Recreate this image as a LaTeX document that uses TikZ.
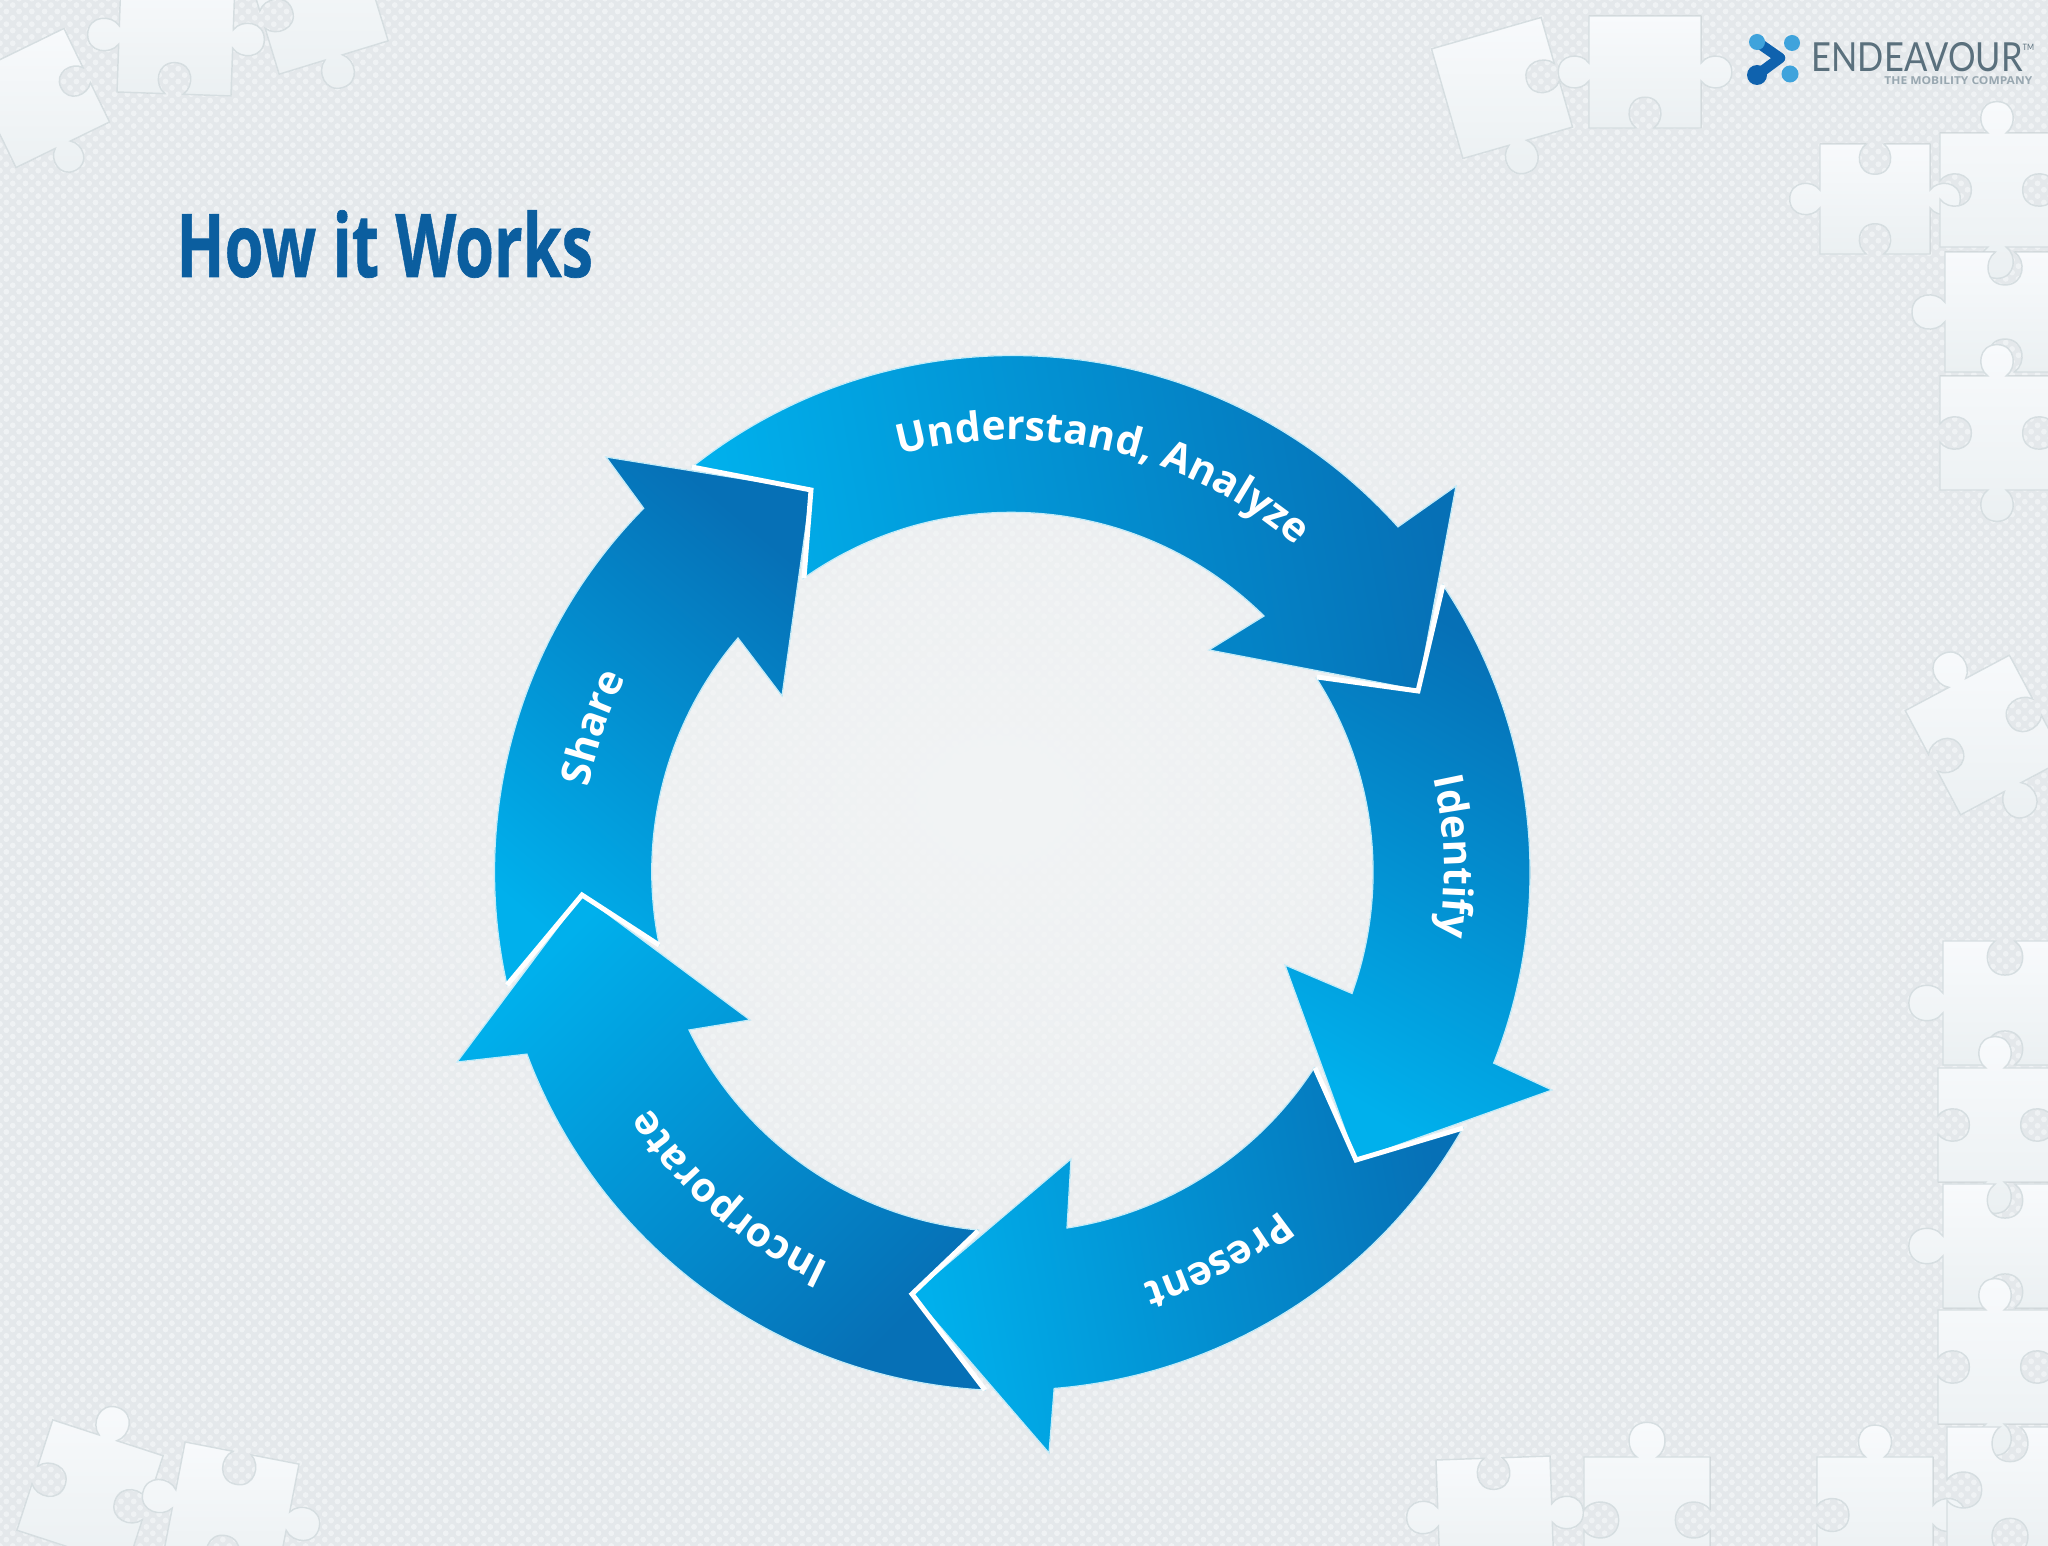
\documentclass[tikz,border=0pt]{standalone}
\usepackage{fontspec}
\setmainfont{Open Sans}
\newfontfamily\logofont{Lato}
\usetikzlibrary{patterns.meta}
\usetikzlibrary{fadings}
\usetikzlibrary{decorations.text}
\definecolor{backgr}{HTML}{E4E8EB}
\definecolor{backdot}{HTML}{EFF2F4}
\definecolor{backmid}{HTML}{F2F4F5}
\definecolor{piecetop}{HTML}{F8FAFC}
\definecolor{piecelow}{HTML}{EBF0F2}
\definecolor{pieceline}{HTML}{D6DEE1}
\definecolor{ringlight}{HTML}{00B0EC}
\definecolor{ringdark}{HTML}{0670B6}
\definecolor{ringglow}{HTML}{C4ECF9}
\definecolor{titleblue}{HTML}{0B5E9F}
\definecolor{logogray}{HTML}{5A707D}
\definecolor{logosub}{HTML}{98A7B0}
\definecolor{logodark}{HTML}{0F62AE}
\definecolor{logolight}{HTML}{3FA3DC}
\tikzfading[name=midglow,inner color=transparent!0,outer color=transparent!100]
\tikzset{
	piece/.style={top color=piecetop,bottom color=piecelow,draw=pieceline,line width=0.4pt},
	ringarrow/.style={bottom color=ringlight,top color=ringdark,shading angle=#1,draw=ringglow,line width=0.35pt},
	tailedge/.style={draw=white,line width=1.4pt,line join=miter},
}
\newcommand\pside[3]{--++({.84*#1},{.84*#2})
	.. controls +({-.2*#1+.14*#3*#2},{-.2*#2-.14*#3*#1}) and +({-.33*#1},{-.33*#2}) .. ++({.16*#1+.55*#3*#2},{.16*#2-.55*#3*#1})
	.. controls +({.33*#1},{.33*#2}) and +({.2*#1+.14*#3*#2},{.2*#2-.14*#3*#1}) .. ++({.16*#1-.55*#3*#2},{.16*#2+.55*#3*#1})
	--++({.84*#1},{.84*#2})}
\newcommand\puzzle[8]{\begin{scope}[shift={(#1,#2)},rotate=#3,scale=#4]
	\filldraw[piece] (-1,-1) \pside{1}{0}{#5} \pside{0}{1}{#6} \pside{-1}{0}{#7} \pside{0}{-1}{#8} --cycle;
	\end{scope}}
\newcommand\ringlabel[3]{\path[decorate,decoration={text along path,text={|\bfseries\fontsize{11.6}{14}\selectfont\color{white}|#3},text align=center}] (1012,872)++(#1:432) arc (#1:#2:432);}

\begin{document}
\begin{tikzpicture}[x=0.01cm,y=-0.01cm]
	\useasboundingbox (0,0) rectangle (2048,1546);
	\clip (0,0) rectangle (2048,1546);
	
	%BACKGROUND
	\fill[backgr] (0,0) rectangle (2048,1546);
	\fill[pattern={Dots[distance=0.09cm,radius=0.029cm,angle=45]},pattern color=backdot] (0,0) rectangle (2048,1546);
	\fill[backmid,path fading=midglow] (1000,800) ellipse (1000 and 760);
	
	%TOP LEFT PIECES
	\puzzle{40}{98}{26}{52}{0}{-1}{1}{0}
	\puzzle{176}{37}{-2}{57}{0}{1}{-1}{1}
	\puzzle{317}{3}{17}{57}{1}{0}{1}{-1}
	
	%TOP RIGHT PIECES
	\puzzle{1502}{88}{16}{57}{0}{-1}{1}{0}
	\puzzle{1645}{72}{0}{56}{0}{1}{-1}{1}
	\puzzle{1875}{199}{0}{55}{-1}{1}{-1}{1}
	\puzzle{1997}{190}{0}{57}{1}{-1}{1}{-1}
	\puzzle{2005}{312}{0}{60}{-1}{0}{-1}{1}
	\puzzle{1997}{433}{0}{57}{1}{-1}{1}{-1}
	\puzzle{1985}{735}{28}{59}{1}{-1}{1}{-1}
	
	%RIGHT COLUMN
	\puzzle{2005}{1003}{0}{62}{-1}{0}{-1}{1}
	\puzzle{1995}{1125}{0}{57}{1}{-1}{1}{-1}
	\puzzle{2005}{1246}{0}{62}{-1}{0}{-1}{1}
	\puzzle{1995}{1367}{0}{57}{1}{-1}{1}{-1}
	\puzzle{1875}{1515}{0}{58}{1}{1}{0}{-1}
	\puzzle{2010}{1490}{0}{63}{-1}{0}{-1}{-1}
	
	%BOTTOM PIECES
	\puzzle{1495}{1515}{2}{57}{-1}{1}{0}{1}
	\puzzle{1647}{1520}{0}{63}{1}{-1}{0}{-1}
	\puzzle{90}{1493}{-18}{58}{1}{-1}{0}{-1}
	\puzzle{231}{1510}{-11}{58}{-1}{1}{-1}{1}
	
	%LOGO
	\draw[logodark,line width=3pt,line cap=round,line join=round] (1757,42)--(1780,58)--(1757,75);
	\fill[logolight] (1757,42) circle (8);
	\fill[logodark] (1757,75) circle (10);
	\fill[logolight] (1792,43) circle (8);
	\fill[logolight] (1790,74) circle (8.5);
	\node[anchor=base west,inner sep=0,text=logogray,xscale=0.86] (logoname) at (1811,72) {\logofont\fontsize{11.4}{12}\selectfont ENDEAVOUR\raisebox{1.05ex}{\fontsize{2.5}{3}\selectfont TM}};
	\node[anchor=base east,inner sep=0,text=logosub,xscale=1.1] (logotag) at (2033,85) {\fontsize{3.1}{4}\bfseries\selectfont THE MOBILITY COMPANY};
	
	%TITLE
	\node[anchor=base west,inner sep=0,text=titleblue,xscale=0.716] (title) at (176,277) {\fontsize{25}{30}\bfseries\addfontfeatures{FakeBold=0.8}\selectfont How it Works};
	
	%RING ARROWS
	\filldraw[ringarrow=-80] (692,467) arc (-128.3:-42:518)--(1456,486)--(1418,690)--(1209,650)--(1264,616) arc (-45.4:-125.3:360)--(811,490)--cycle;
	\filldraw[ringarrow=-30] (1443,585) arc (-33.7:21.6:518)--(1552,1090)--(1356,1160)--(1285,965)--(1352,993.5) arc (19.7:-32.6:360)--(1418,691)--cycle;
	\filldraw[ringarrow=-80] (1463,1128) arc (29.6:85.4:518)--(1049,1453)--(912,1294)--(1071,1159)--(1067,1228) arc (81.2:32.9:360)--(1356,1160)--cycle;
	\filldraw[ringarrow=-135] (985,1390) arc (93:159.5:518)--(457,1062)--(582,895)--(750,1020)--(689,1030) arc (153.9:95.4:360)--(912,1294)--cycle;
	\filldraw[ringarrow=-40] (507,985) arc (167.4:224.6:518)--(606,457)--(811,490)--(782,696)--(738,638) arc (220.5:168.3:360)--(582,895)--cycle;
	%
	\draw[tailedge] (692,467)--(811,490)--(804,578);
	\draw[tailedge] (1443,585)--(1418,691)--(1317,677);
	\draw[tailedge] (1463,1128)--(1356,1160)--(1315,1068);
	\draw[tailedge] (985,1390)--(912,1294)--(978,1231);
	\draw[tailedge] (507,985)--(582,895)--(659,945);
	
	%RING LABELS
	\ringlabel{-108}{-46}{Understand, Analyze}
	\ringlabel{-22}{18}{Identify}
	\ringlabel{42}{82}{Present}
	\ringlabel{108}{154}{Incorporate}
	\ringlabel{180}{218}{Share}
\end{tikzpicture}
\end{document}
